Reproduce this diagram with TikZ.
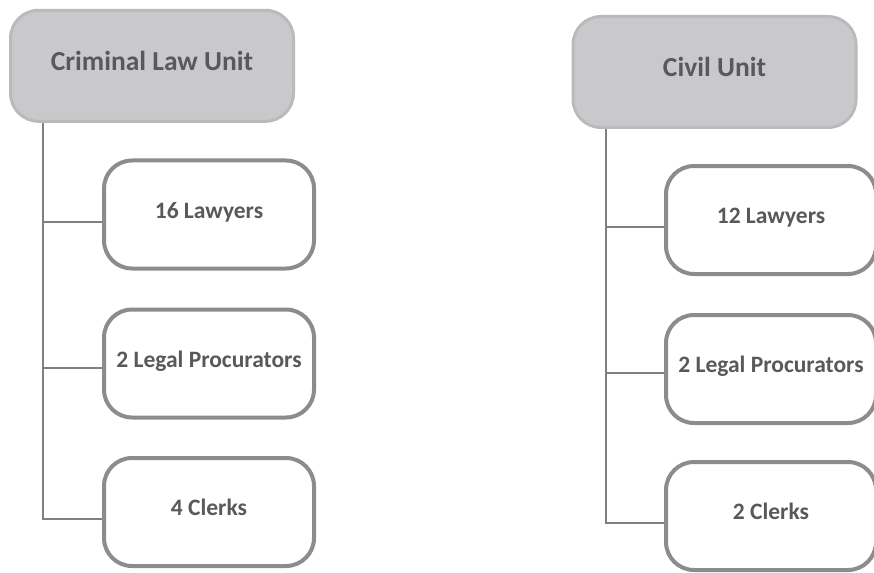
\documentclass[tikz,border=0pt]{standalone}
\usepackage{fontspec}
\setmainfont{Carlito}
\usetikzlibrary{calc}
\definecolor{hdrfill}{RGB}{201,201,203}
\definecolor{hdrline}{RGB}{186,186,189}
\definecolor{boxline}{RGB}{140,140,143}
\definecolor{connline}{RGB}{128,128,130}
\definecolor{txt}{RGB}{89,89,91}
\tikzset{
  hdrbox/.style={draw=hdrline, fill=hdrfill, line width=3pt, rounded corners=28pt,
    minimum width=283pt, minimum height=111pt, inner sep=0pt,
    font=\fontsize{27.5}{30}\selectfont\bfseries, text=txt,
    text height=16pt, text depth=6pt},
  staffbox/.style={draw=boxline, fill=white, line width=4pt, rounded corners=28pt,
    minimum width=210pt, minimum height=108pt, inner sep=0pt,
    font=\fontsize{23.5}{26}\selectfont\bfseries, text=txt,
    text height=12pt, text depth=5pt},
  conn/.style={draw=connline, line width=2pt}
}
\begin{document}
\begin{tikzpicture}[x=1pt,y=-1pt]
\useasboundingbox (0,0) rectangle (874,572);
% left column
\node[hdrbox] (hL) at (152,65.8) {Criminal Law Unit};
\node[staffbox] (l1) at (209,214.5) {16 Lawyers};
\node[staffbox] (l2) at (209,363.5) {2 Legal Procurators};
\node[staffbox] (l3) at (209,512) {4 Clerks};
\coordinate (tL) at ($(hL.south west)+(33.5,0)$);
\coordinate (l1w) at ($(l1.west)+(0,7.5)$);
\coordinate (l2w) at ($(l2.west)+(0,4.5)$);
\coordinate (l3w) at ($(l3.west)+(0,7)$);
\draw[conn] (tL) |- (l3w);
\draw[conn] (tL) |- (l2w);
\draw[conn] (tL) |- (l1w);
% right column
\node[hdrbox] (hR) at (714.5,72) {Civil Unit};
\node[staffbox] (r1) at (771,220) {12 Lawyers};
\node[staffbox] (r2) at (771,369) {2 Legal Procurators};
\node[staffbox] (r3) at (771,516) {2 Clerks};
\coordinate (tR) at ($(hR.south west)+(34.5,0)$);
\coordinate (r1w) at ($(r1.west)+(0,7)$);
\coordinate (r2w) at ($(r2.west)+(0,4)$);
\coordinate (r3w) at ($(r3.west)+(0,7)$);
\draw[conn] (tR) |- (r3w);
\draw[conn] (tR) |- (r2w);
\draw[conn] (tR) |- (r1w);
\end{tikzpicture}
\end{document}
